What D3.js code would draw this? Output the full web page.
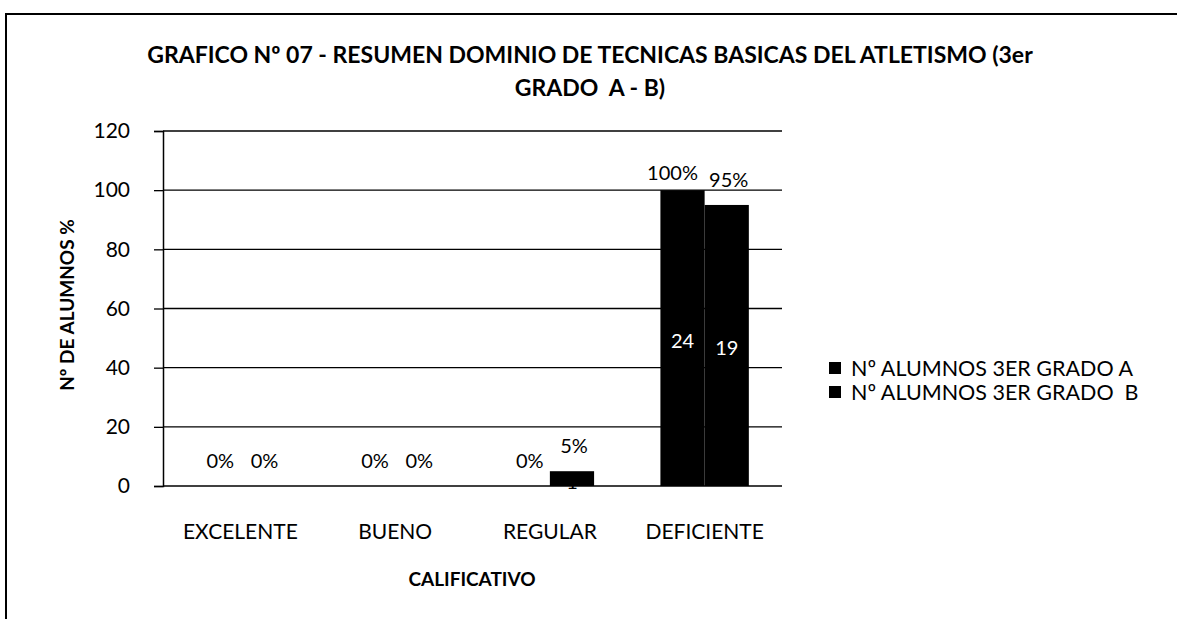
<!DOCTYPE html>
<html>
<head>
<meta charset="utf-8">
<script src="https://cdn.jsdelivr.net/npm/d3@7"></script>
<style>
  body { margin: 0; background: #fff; }
  text { font-family: Lato, "Open Sans", sans-serif; fill: #000; }
</style>
</head>
<body>
<script>
var categories = ['EXCELENTE', 'BUENO', 'REGULAR', 'DEFICIENTE'];
var seriesNames = ['Nº ALUMNOS 3ER GRADO A', 'Nº ALUMNOS 3ER GRADO  B'];
var pctA = [0, 0, 0, 100];
var pctB = [0, 0, 5, 95];
var countA = [0, 0, 0, 24];
var countB = [0, 0, 1, 19];
var yTicks = [0, 20, 40, 60, 80, 100, 120];

var width = 1177, height = 619;
var plot = { left: 163, right: 782, top: 131, bottom: 486 };

var svg = d3.select('body').append('svg')
  .attr('width', width)
  .attr('height', height);

// outer frame
svg.append('path')
  .attr('d', 'M6,' + height + ' L6,14 L' + width + ',14')
  .attr('fill', 'none')
  .attr('stroke', '#000')
  .attr('stroke-width', 2);

var x = d3.scaleBand().domain(categories).range([plot.left, plot.right]);
var x1 = d3.scaleBand().domain([0, 1]).range([0, x.bandwidth()]).paddingOuter(0.75);
var y = d3.scaleLinear().domain([0, 120]).range([plot.bottom, plot.top]);

// gridlines
svg.append('g').selectAll('line')
  .data(yTicks)
  .enter()
  .append('line')
  .attr('x1', plot.left)
  .attr('x2', plot.right)
  .attr('y1', function (d) { return y(d); })
  .attr('y2', function (d) { return y(d); })
  .attr('stroke', '#000')
  .attr('stroke-width', 1.3);

// y axis
var yAxis = svg.append('g')
  .attr('transform', 'translate(' + plot.left + ',0)')
  .call(d3.axisLeft(y).tickValues(yTicks).tickSize(9).tickPadding(24));
yAxis.select('.domain').attr('stroke', '#000').attr('stroke-width', 1.5);
yAxis.selectAll('.tick line').attr('stroke', '#000').attr('stroke-width', 1.3);
yAxis.selectAll('text').attr('font-size', 21).style('font-family', 'Lato, sans-serif');

// x axis labels
var xAxis = svg.append('g')
  .attr('transform', 'translate(0,' + plot.bottom + ')')
  .call(d3.axisBottom(x).tickSize(0).tickPadding(38));
xAxis.select('.domain').remove();
xAxis.selectAll('text').attr('font-size', 21).style('font-family', 'Lato, sans-serif');

var data = categories.map(function (c, i) {
  return [
    { cat: c, s: 0, pct: pctA[i], n: countA[i] },
    { cat: c, s: 1, pct: pctB[i], n: countB[i] }
  ];
});

var groups = svg.selectAll('g.cat')
  .data(data)
  .enter()
  .append('g')
  .attr('class', 'cat')
  .attr('transform', function (d, i) { return 'translate(' + x(categories[i]) + ',0)'; });

groups.selectAll('rect')
  .data(function (d) { return d; })
  .enter()
  .append('rect')
  .attr('x', function (d) { return x1(d.s); })
  .attr('width', x1.bandwidth())
  .attr('y', function (d) { return y(d.pct); })
  .attr('height', function (d) { return plot.bottom - y(d.pct); })
  .attr('fill', '#000');

// percent labels (kept below the top gridline band like the original)
groups.selectAll('text.pct')
  .data(function (d) { return d; })
  .enter()
  .append('text')
  .attr('class', 'pct')
  .attr('x', function (d) { return x1(d.s) + x1.bandwidth() / 2 + (d.pct === 100 ? -10 : 2); })
  .attr('y', function (d) { return Math.max(y(d.pct) - 18, y(100) - 10); })
  .attr('text-anchor', 'middle')
  .attr('font-size', 20)
  .text(function (d) { return d.pct + '%'; });

// count labels
groups.selectAll('text.cnt')
  .data(function (d) { return d.filter(function (e) { return e.n > 0; }); })
  .enter()
  .append('text')
  .attr('class', 'cnt')
  .attr('x', function (d) { return x1(d.s) + x1.bandwidth() / 2; })
  .attr('y', function (d) { return (y(d.pct) + plot.bottom) / 2 + 10; })
  .attr('text-anchor', 'middle')
  .attr('font-size', 20)
  .style('fill', function (d) { return d.pct > 20 ? '#fff' : '#000'; })
  .text(function (d) { return d.n; });

// title
var title = svg.append('text')
  .attr('text-anchor', 'middle')
  .attr('font-size', 23)
  .attr('font-weight', 'bold');
title.append('tspan').attr('x', 590).attr('y', 63)
  .text('GRAFICO Nº 07 - RESUMEN DOMINIO DE TECNICAS BASICAS DEL ATLETISMO (3er');
title.append('tspan').attr('x', 590).attr('y', 96)
  .style('white-space', 'pre')
  .text('GRADO  A - B)');

// axis titles
svg.append('text')
  .attr('transform', 'translate(74,305) rotate(-90)')
  .attr('text-anchor', 'middle')
  .attr('font-size', 19)
  .attr('font-weight', 'bold')
  .text('Nº DE ALUMNOS %');

svg.append('text')
  .attr('x', 472)
  .attr('y', 586)
  .attr('text-anchor', 'middle')
  .attr('font-size', 19)
  .attr('font-weight', 'bold')
  .text('CALIFICATIVO');

// legend
var legend = svg.selectAll('g.legend')
  .data(seriesNames)
  .enter()
  .append('g')
  .attr('class', 'legend')
  .attr('transform', function (d, i) { return 'translate(829,' + (368 + i * 24) + ')'; });
legend.append('rect')
  .attr('x', 0).attr('y', -6)
  .attr('width', 12).attr('height', 12)
  .attr('fill', '#000');
legend.append('text')
  .attr('x', 22)
  .attr('y', 8)
  .attr('font-size', 21.5)
  .style('white-space', 'pre')
  .text(function (d) { return d; });
</script>
</body>
</html>
